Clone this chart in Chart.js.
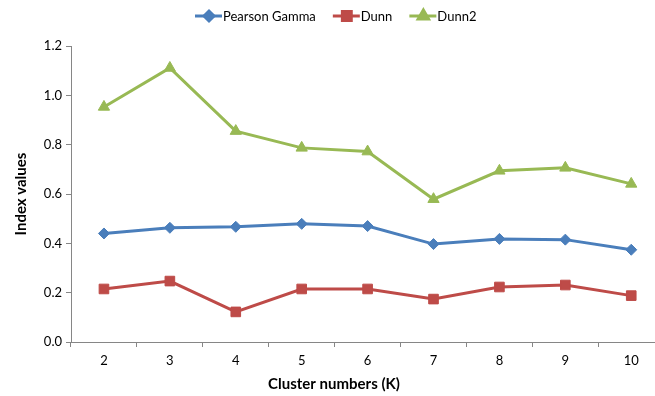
<!DOCTYPE html>
<html lang="en">
<head>
    <meta charset="UTF-8">
    <title>Cluster validity indices</title>
    <script src="https://cdn.jsdelivr.net/npm/chart.js"></script>
    <style>
        html, body { margin: 0; padding: 0; background: #fff; overflow: hidden; }
        /* wider than the window: the original plot is cropped at the right edge */
        #wrap { width: 672px; height: 396px; position: relative; }
    </style>
</head>
<body>
<div id="wrap"><canvas id="chart"></canvas></div>
<script>
const clusters = ['2', '3', '4', '5', '6', '7', '8', '9', '10'];
const pearsonGamma = [0.44, 0.463, 0.467, 0.479, 0.47, 0.397, 0.418, 0.415, 0.374];
const dunn = [0.215, 0.247, 0.122, 0.215, 0.215, 0.174, 0.223, 0.231, 0.188];
const dunn2 = [0.953, 1.111, 0.855, 0.787, 0.772, 0.579, 0.694, 0.706, 0.641];
const yTicks = [0, 0.2, 0.4, 0.6, 0.8, 1.0, 1.2];
const xTitle = 'Cluster numbers (K)';

const FONT = 'Lato, "Open Sans", sans-serif';
const axisGrey = '#868686';

const series = [
    {label: 'Pearson Gamma', data: pearsonGamma, color: '#4A7EBB', style: 'rectRot', radius: 5.5},
    {label: 'Dunn', data: dunn, color: '#BE4B48', style: 'rect', radius: 6.8},
    {label: 'Dunn2', data: dunn2, color: '#98B954', style: 'triangle', radius: 6.5}
];

// legend drawn by hand: line + marker + label, like the spreadsheet original
// x title drawn here too since the original sits left of the plot centre
const lineLegend = {
    id: 'lineLegend',
    afterDraw(chart) {
        const ctx = chart.ctx;
        ctx.save();
        ctx.font = '13px ' + FONT;
        ctx.textBaseline = 'middle';
        let x = 195;
        const y = 16;
        series.forEach(s => {
            ctx.strokeStyle = s.color;
            ctx.lineWidth = 3;
            ctx.beginPath();
            ctx.moveTo(x, y);
            ctx.lineTo(x + 27, y);
            ctx.stroke();
            Chart.helpers.drawPoint(ctx, {
                pointStyle: s.style, radius: s.radius - 0.5, borderWidth: 1
            }, x + 14, y);
            ctx.fillStyle = s.color;
            ctx.strokeStyle = s.color;
            ctx.fill();
            ctx.fillStyle = '#000';
            ctx.fillText(s.label, x + 28, y + 1);
            x += 28 + ctx.measureText(s.label).width + 17;
        });
        ctx.font = 'bold 15px ' + FONT;
        ctx.textAlign = 'center';
        ctx.fillStyle = '#000';
        ctx.fillText(xTitle, 334, 384);
        ctx.restore();
    }
};

new Chart(document.getElementById('chart'), {
    type: 'line',
    data: {
        labels: clusters,
        datasets: series.map(s => ({
            label: s.label,
            data: s.data,
            borderColor: s.color,
            backgroundColor: s.color,
            borderWidth: 3,
            pointStyle: s.style,
            pointRadius: s.radius,
            pointBorderWidth: 1,
            pointBorderColor: s.color,
            pointBackgroundColor: s.color,
            tension: 0
        }))
    },
    options: {
        responsive: true,
        maintainAspectRatio: false,
        animation: false,
        layout: {padding: {top: 46, right: 0, left: 0, bottom: 0}},
        plugins: {
            legend: {display: false},
            tooltip: {enabled: false}
        },
        scales: {
            x: {
                offset: true,
                grid: {
                    offset: true, drawOnChartArea: false, drawTicks: true,
                    tickLength: 5, color: axisGrey
                },
                border: {color: axisGrey, width: 1},
                ticks: {color: '#000', font: {family: FONT, size: 13}, padding: 6, maxRotation: 0},
                afterFit(scale) { scale.height = 54; }
            },
            y: {
                min: 0,
                max: 1.2,
                afterBuildTicks(scale) { scale.ticks = yTicks.map(v => ({value: v})); },
                grid: {
                    drawOnChartArea: false, drawTicks: true, tickLength: 5, color: axisGrey
                },
                border: {color: axisGrey, width: 1},
                ticks: {
                    color: '#000', font: {family: FONT, size: 13}, padding: 4,
                    callback: v => Number(v).toFixed(1)
                },
                title: {
                    display: true, text: 'Index values', color: '#000',
                    font: {family: FONT, size: 15, weight: 'bold'}, padding: {top: 12, bottom: 4}
                },
                afterFit(scale) { scale.width = 71; }
            }
        }
    },
    plugins: [lineLegend]
});
</script>
</body>
</html>
